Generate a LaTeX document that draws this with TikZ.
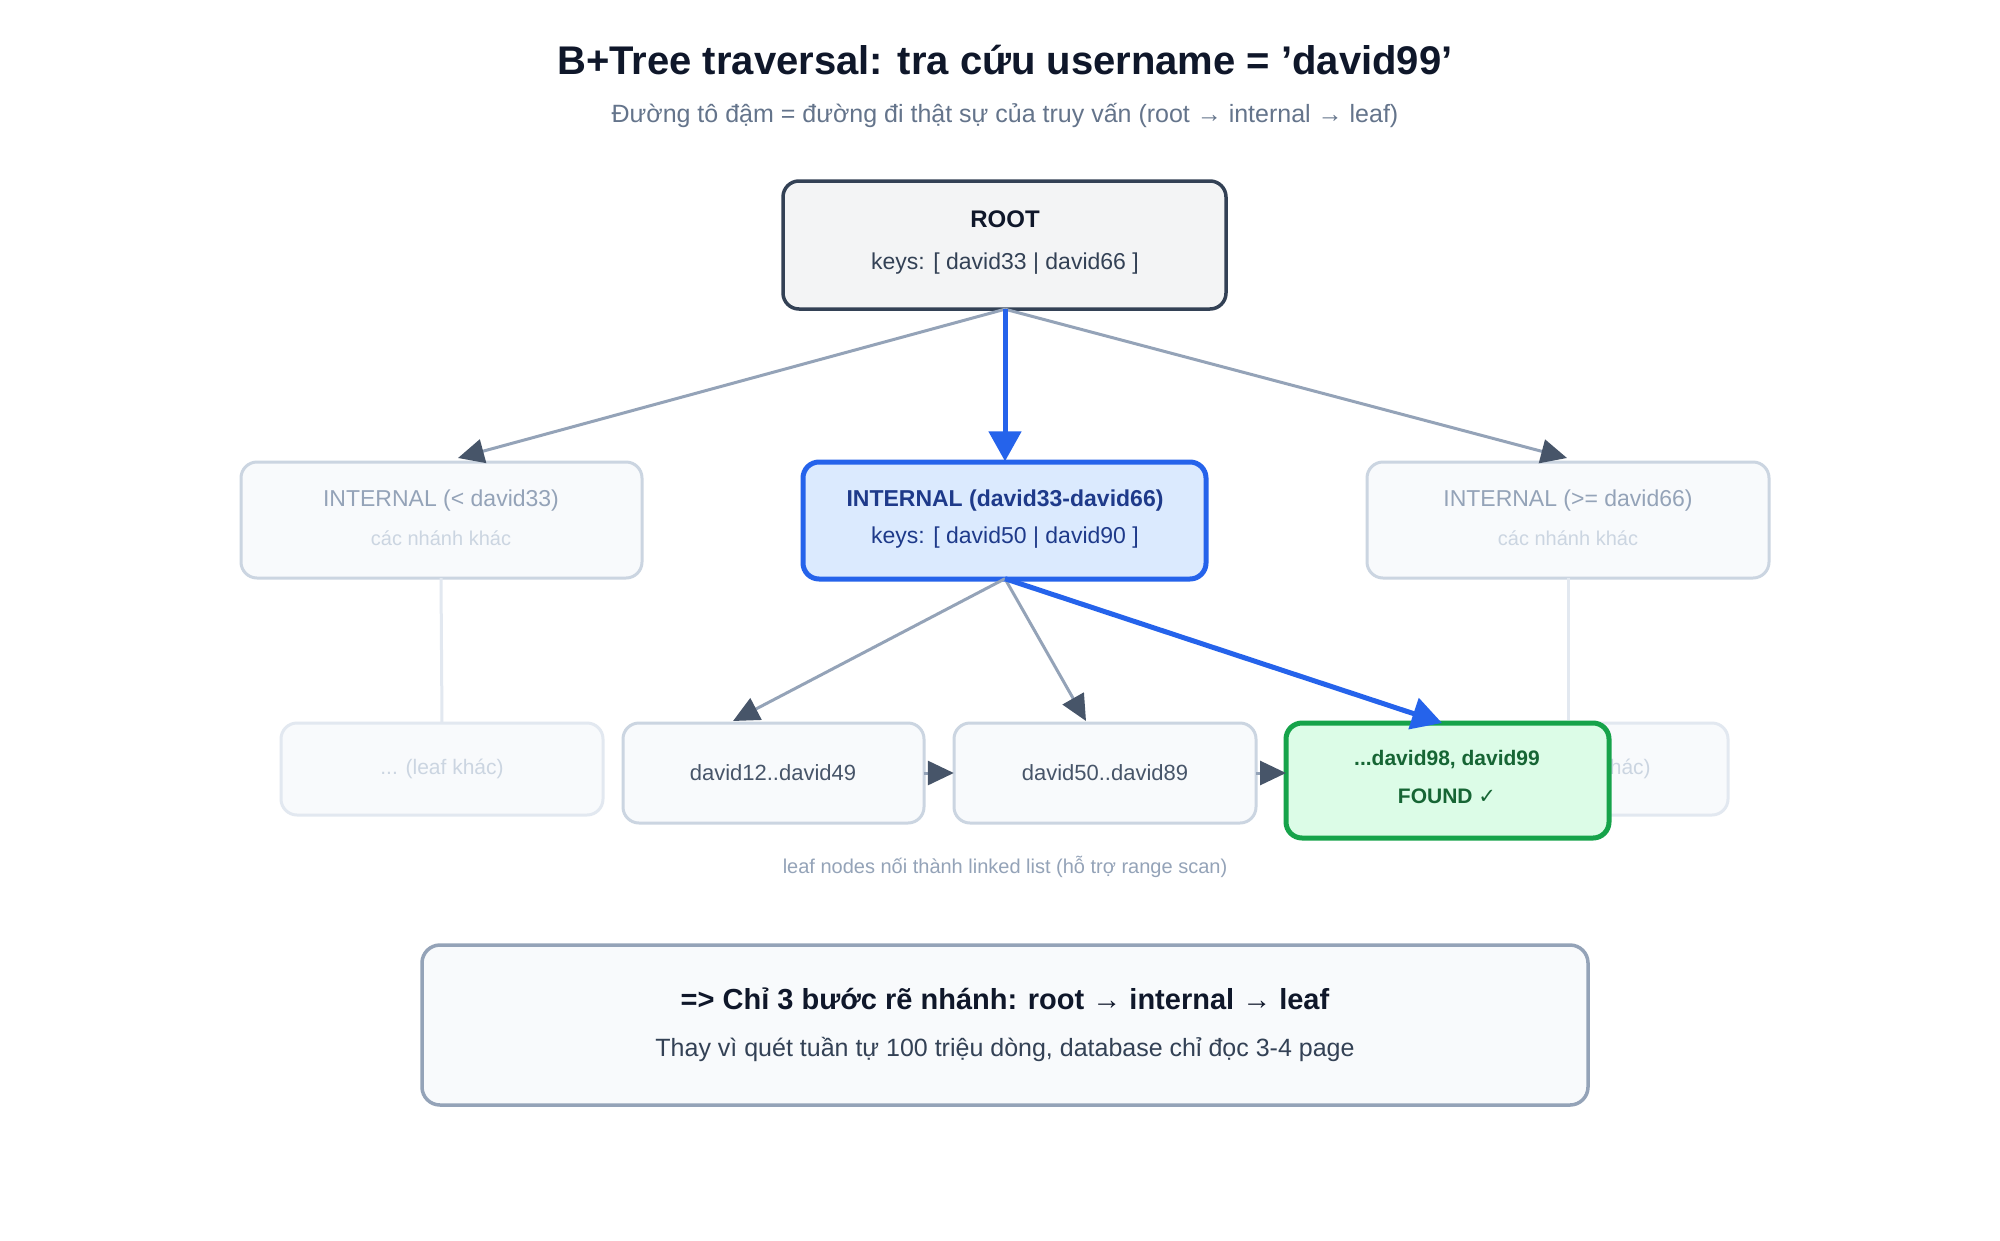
\documentclass[tikz,border=0pt]{standalone}
\usepackage{fontspec}
\setmainfont{Liberation Sans}
\newfontfamily\djsym{DejaVu Sans}
\usetikzlibrary{arrows.meta}
\definecolor{ink}{HTML}{0F172A}
\definecolor{sub}{HTML}{64748B}
\definecolor{slate}{HTML}{334155}
\definecolor{edge}{HTML}{94A3B8}
\definecolor{tip}{HTML}{475569}
\definecolor{faint}{HTML}{CBD5E1}
\definecolor{fainter}{HTML}{E2E8F0}
\definecolor{bg}{HTML}{F8FAFC}
\definecolor{blue}{HTML}{2563EB}
\definecolor{bluefill}{HTML}{DBEAFE}
\definecolor{bluetext}{HTML}{1E3A8A}
\definecolor{grn}{HTML}{16A34A}
\definecolor{grnfill}{HTML}{DCFCE7}
\definecolor{grntext}{HTML}{166534}
\begin{document}
\begin{tikzpicture}[x=1pt,y=-1pt,
 g/.style={draw=edge, line width=3pt, -{Triangle[length=26pt,width=24pt,fill=tip,color=tip]}},
 b/.style={draw=blue, line width=5pt, -{Triangle[length=30pt,width=32pt]}},
 v/.style={draw=fainter, line width=3pt}]
\useasboundingbox (0,0) rectangle (2000,1240);
\fill[white] (0,0) rectangle (2000,1240);
\node (title) at (1005,60) {\fontsize{40}{48}\selectfont\bfseries\color{ink}B+Tree traversal: tra cứu username = 'david99'};
\node (subt) at (1005,115) {\fontsize{25}{30}\selectfont\color{sub}Đường tô đậm = đường đi thật sự của truy vấn (root → internal → leaf)};
% root
\draw[slate, fill=slate!6!white, line width=3.5pt, rounded corners=16pt] (783,181) rectangle (1226,309);
\node (root) at (1005,245) [minimum width=443pt, minimum height=128pt] {};
\node at (1005,219) {\fontsize{24}{28}\selectfont\bfseries\color{ink}ROOT};
\node at (1005,264) {\fontsize{23}{28}\selectfont\color{slate}keys: [ david33 | david66 ]};
% internals
\draw[faint, fill=bg, line width=3pt, rounded corners=16pt] (241,462) rectangle (642,578);
\node (il) at (441,520) [minimum width=401pt, minimum height=116pt] {};
\node at (441,501) {\fontsize{23}{28}\selectfont\color{edge}INTERNAL (< david33)};
\node at (441,538) {\fontsize{20}{24}\selectfont\color{faint}các nhánh khác};
\draw[blue, fill=bluefill, line width=5pt, rounded corners=16pt] (803,462) rectangle (1206,579);
\node (im) at (1005,520) [minimum width=403pt, minimum height=117pt] {};
\node at (1005,501) {\fontsize{23}{28}\selectfont\bfseries\color{bluetext}INTERNAL (david33-david66)};
\node at (1005,538) {\fontsize{23}{28}\selectfont\color{bluetext}keys: [ david50 | david90 ]};
\draw[faint, fill=bg, line width=3pt, rounded corners=16pt] (1367,462) rectangle (1769,578);
\node (ir) at (1568,520) [minimum width=402pt, minimum height=116pt] {};
\node at (1568,501) {\fontsize{23}{28}\selectfont\color{edge}INTERNAL (>= david66)};
\node at (1568,538) {\fontsize{20}{24}\selectfont\color{faint}các nhánh khác};
% faded leaves
\draw[fainter, fill=bg, line width=3pt, rounded corners=16pt] (281,723) rectangle (603,815);
\node (lk) at (442,769) [minimum width=322pt, minimum height=92pt] {\fontsize{21}{24}\selectfont\color{faint}... (leaf khác)};
\draw[fainter, fill=bg, line width=3pt, rounded corners=16pt] (1450,723) rectangle (1728,815);
\node (lr) at (1589,769) [minimum width=278pt, minimum height=92pt] {\fontsize{21}{24}\selectfont\color{faint}... (leaf khác)};
\draw[v] (il.south) -- (lk.north);
\draw[v] (ir.south) -- (1568,720);
% leaves
\draw[faint, fill=bg, line width=3pt, rounded corners=16pt] (623,723) rectangle (924,823);
\node (l1) at (773,773) [minimum width=301pt, minimum height=100pt] {\fontsize{22}{26}\selectfont\color{tip}david12..david49};
\draw[faint, fill=bg, line width=3pt, rounded corners=16pt] (954,723) rectangle (1256,823);
\node (l2) at (1105,773) [minimum width=302pt, minimum height=100pt] {\fontsize{22}{26}\selectfont\color{tip}david50..david89};
\draw[grn, fill=grnfill, line width=5pt, rounded corners=16pt] (1286,723) rectangle (1609,838);
\node (lf) at (1447,780) [minimum width=323pt, minimum height=115pt] {};
\node at (1447,760) {\fontsize{21}{26}\selectfont\bfseries\color{grntext}...david98, david99};
\node at (1447,796) {\fontsize{21}{26}\selectfont\bfseries\color{grntext}FOUND {\djsym ✓}};
% edges
\draw[g] (root.south) -- (458,458);
\draw[g] (root.south) -- (1567,458);
\draw[b] (root.south) -- (im.north);
\draw[g] (im.south) -- (733,721);
\draw[g] (im.south) -- (1086,721);
\draw[b] (im.south) -- (1442,723);
\draw[g] (l1.east) -- (l2.west);
\draw[g] (l2.east) -- (1286,773);
\node (cap) at (1005,867) {\fontsize{20}{24}\selectfont\color{edge}leaf nodes nối thành linked list (hỗ trợ range scan)};
% bottom
\draw[edge, fill=bg, line width=3.5pt, rounded corners=18pt] (422,945) rectangle (1588,1105);
\node (sum) at (1005,1025) [minimum width=1166pt, minimum height=160pt] {};
\node at (1005,999) {\fontsize{29}{34}\selectfont\bfseries\color{ink}=> Chỉ 3 bước rẽ nhánh: root → internal → leaf};
\node at (1005,1049) {\fontsize{25}{30}\selectfont\color{slate}Thay vì quét tuần tự 100 triệu dòng, database chỉ đọc 3-4 page};
\end{tikzpicture}
\end{document}
